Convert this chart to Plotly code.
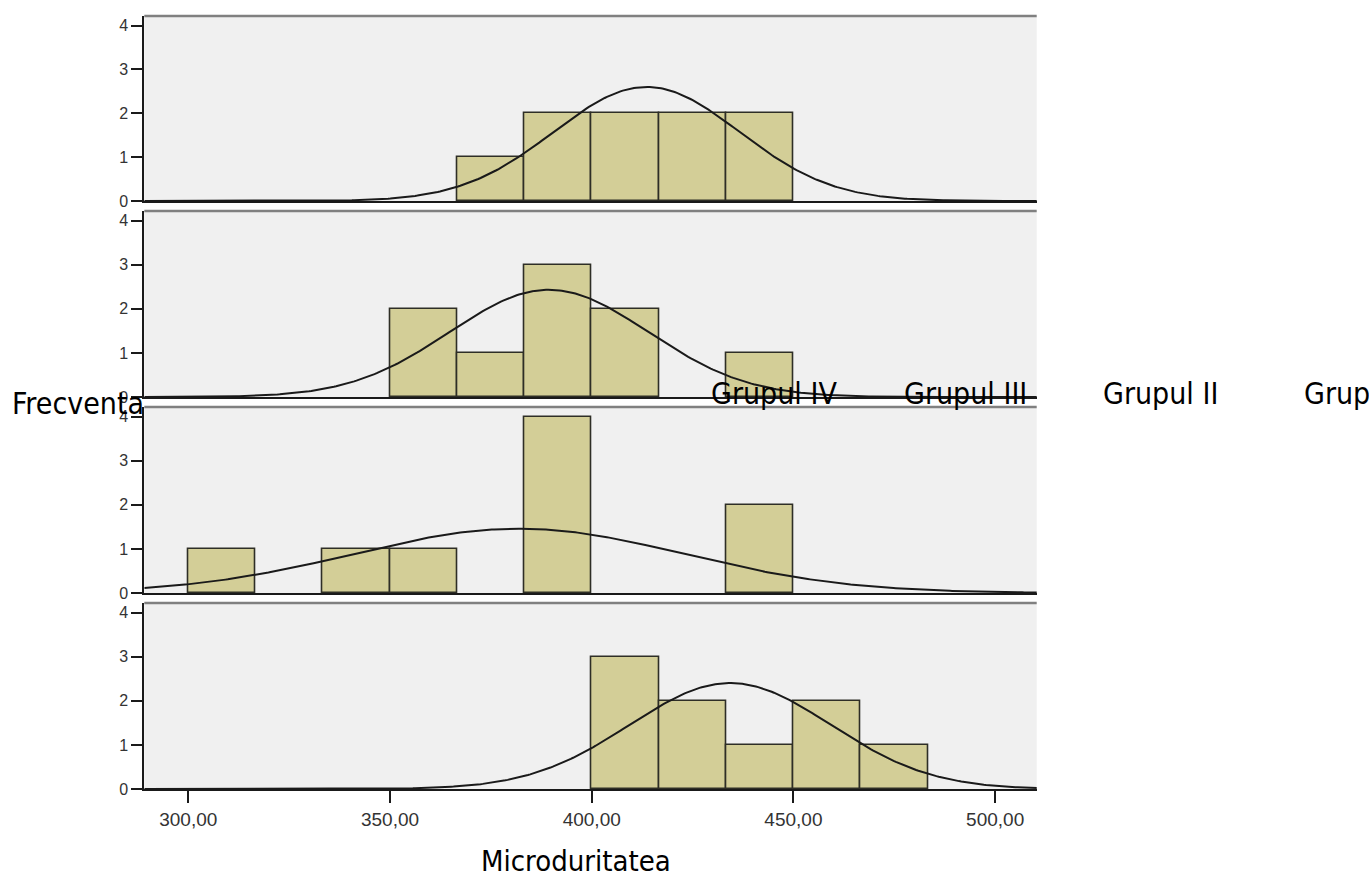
import numpy as np
import plotly.graph_objects as go

# ---------------- data ----------------
bin_start = 300.0
bin_width = 50.0 / 3.0
n_bins = 11

panel_names = ["Panel 1", "Panel 2", "Panel 3", "Panel 4"]
counts_p1 = [0, 0, 0, 0, 1, 2, 2, 2, 2, 0, 0]
counts_p2 = [0, 0, 0, 2, 1, 3, 2, 0, 1, 0, 0]
counts_p3 = [1, 0, 1, 1, 0, 4, 0, 0, 2, 0, 0]
counts_p4 = [0, 0, 0, 0, 0, 0, 3, 2, 1, 2, 1]
counts = [counts_p1, counts_p2, counts_p3, counts_p4]

# fitted normal curve parameters (mean, sd)
curve_means = [413.6, 389.4, 381.9, 434.3]
curve_sds = [23.0, 24.6, 41.0, 24.9]

x_tick_vals = [300, 350, 400, 450, 500]
x_tick_text = ["300,00", "350,00", "400,00", "450,00", "500,00"]
y_tick_vals = [0, 1, 2, 3, 4]

group_labels = ["Grupul IV", "Grupul III", "Grupul II", "Grupul I"]
y_title = "Frecventa"
x_title = "Microduritatea"

# ---------------- layout constants ----------------
W, H = 1369, 876
x_range = [289.1, 510.3]
y_range = [0, 4.22]
x_dom = [144.3 / W, 1036.7 / W]
panel_px = [(16, 201), (211, 397), (407, 593), (603, 789)]

bar_fill = "#d3ce97"
bar_line = "#2e2e26"
plot_bg = "#f0f0f0"
ytick_font = dict(family="Liberation Sans, Arial, sans-serif", size=16, color="#333333")
xtick_font = dict(family="Liberation Sans, Arial, sans-serif", size=19, color="#333333")
title_font_family = "DejaVu Sans Condensed, DejaVu Sans, sans-serif"

fig = go.Figure()
centers = [bin_start + bin_width * (i + 0.5) for i in range(n_bins)]
xs = np.linspace(x_range[0], x_range[1] + 2, 400)

shapes = []
for k in range(4):
    ax = "" if k == 0 else str(k + 1)
    c = counts[k]
    bx = [centers[i] for i in range(n_bins) if c[i] > 0]
    by = [c[i] for i in range(n_bins) if c[i] > 0]
    fig.add_trace(go.Bar(
        x=bx, y=by, width=bin_width,
        marker=dict(color=bar_fill, line=dict(color=bar_line, width=1.6)),
        xaxis="x" + ax, yaxis="y" + ax, showlegend=False, name=panel_names[k],
    ))
    n = sum(c)
    m, s = curve_means[k], curve_sds[k]
    ys = n * bin_width / (s * np.sqrt(2 * np.pi)) * np.exp(-0.5 * ((xs - m) / s) ** 2)
    fig.add_trace(go.Scatter(
        x=xs, y=ys, mode="lines", line=dict(color="#1a1a1a", width=2),
        xaxis="x" + ax, yaxis="y" + ax, showlegend=False, cliponaxis=False,
        hoverinfo="skip",
    ))
    top, bot = panel_px[k]
    dom = [1 - bot / H, 1 - top / H]
    last = (k == 3)
    fig.layout["xaxis" + ax] = dict(
        domain=x_dom, range=x_range, anchor="y" + ax, automargin=False,
        showgrid=False, zeroline=False,
        showline=True, linecolor="#1a1a1a", linewidth=2,
        ticks="outside" if last else "", ticklen=12, tickwidth=2, tickcolor="#1a1a1a",
        tickvals=x_tick_vals, ticktext=x_tick_text,
        showticklabels=last, tickfont=xtick_font,
    )
    fig.layout["yaxis" + ax] = dict(
        domain=dom, range=y_range, anchor="x" + ax, automargin=False,
        showgrid=False, zeroline=False,
        showline=True, linecolor="#1a1a1a", linewidth=2,
        ticks="outside", ticklen=11, tickwidth=2, tickcolor="#1a1a1a",
        tickvals=y_tick_vals, tickfont=ytick_font,
    )
    # panel background
    shapes.append(dict(type="rect", xref="x" + ax + " domain", yref="y" + ax + " domain",
                       x0=0, x1=1, y0=0, y1=1, fillcolor=plot_bg, line=dict(width=0),
                       layer="below"))
    # top border (grey)
    shapes.append(dict(type="line", xref="x" + ax + " domain", yref="y" + ax + " domain",
                       x0=0, x1=1, y0=1, y1=1, line=dict(color="#808080", width=2.5)))

annotations = [
    dict(text=y_title, xref="paper", yref="paper", x=10 / W, y=1 - 403 / H,
         xanchor="left", yanchor="middle", showarrow=False,
         font=dict(family=title_font_family, size=30, color="#000000")),
    dict(text=x_title, xref="paper", yref="paper", x=575.5 / W, y=1 - 861 / H,
         xanchor="center", yanchor="middle", showarrow=False,
         font=dict(family=title_font_family, size=29, color="#000000")),
]
label_x_px = [774, 965, 1160, 1302]
for i, lab in enumerate(group_labels):
    annotations.append(dict(
        text=lab, xref="paper", yref="paper", x=label_x_px[i] / W, y=1 - 393 / H,
        xanchor="left" if i == 3 else "center", yanchor="middle", showarrow=False,
        font=dict(family=title_font_family, size=30, color="#000000")))

fig.update_layout(
    width=W, height=H, margin=dict(l=0, r=0, t=0, b=0, autoexpand=False),
    paper_bgcolor="white", plot_bgcolor="rgba(0,0,0,0)",
    barmode="overlay", bargap=0,
    shapes=shapes, annotations=annotations,
)

fig.write_html("out.html", config={"displayModeBar": False},
               post_script="document.body.style.margin='0';document.body.style.overflow='hidden';")
